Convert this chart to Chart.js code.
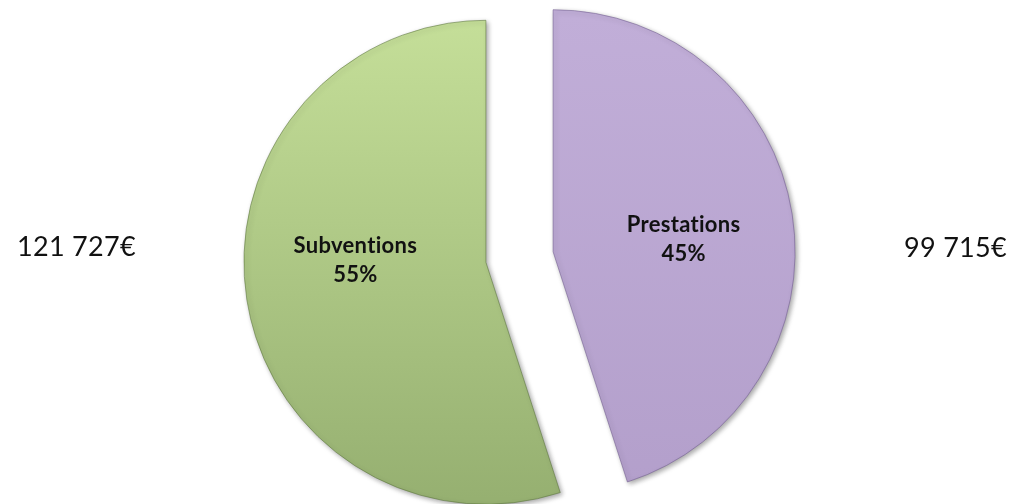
<!DOCTYPE html>
<html>
<head>
<meta charset="utf-8">
<style>
html,body{margin:0;padding:0;background:#fff;}
#wrap{width:1014px;height:504px;position:relative;}
</style>
<script src="https://cdn.jsdelivr.net/npm/chart.js@4.4.1/dist/chart.umd.min.js"></script>
</head>
<body>
<div id="wrap"><canvas id="c" width="1014" height="504"></canvas></div>
<script>
// ---- Data ----
const categories = ['Prestations', 'Subventions'];
const amounts = [99715, 121727];

// ---- Styles ----
const topColors = ['#c1aed8', '#c5df99'];
const bottomColors = ['#b39fcb', '#96b071'];
const edgeColors = ['rgba(110,90,140,0.55)', 'rgba(90,115,60,0.55)'];
const EXPLODE = 34;
const RADIUS = 242;

function fmtEuro(v) {
  return String(v).replace(/\B(?=(\d{3})+(?!\d))/g, ' ') + '€';
}

function gradientFor(context) {
  const chart = context.chart;
  const ca = chart.chartArea;
  const i = context.dataIndex;
  if (!ca) return topColors[i];
  const cy = (ca.top + ca.bottom) / 2;
  const g = chart.ctx.createLinearGradient(0, cy - RADIUS, 0, cy + RADIUS);
  g.addColorStop(0, topColors[i]);
  g.addColorStop(1, bottomColors[i]);
  return g;
}

const explodePlugin = {
  id: 'explode',
  beforeDatasetsDraw(chart) {
    const meta = chart.getDatasetMeta(0);
    const ca = chart.chartArea;
    const cx = (ca.left + ca.right) / 2;
    const cy = (ca.top + ca.bottom) / 2;
    meta.data.forEach(arc => {
      const mid = (arc.startAngle + arc.endAngle) / 2;
      arc.x = cx + Math.cos(mid) * EXPLODE;
      arc.y = cy + Math.sin(mid) * EXPLODE;
    });
    const c = chart.ctx;
    c.save();
    c.shadowColor = 'rgba(0,0,0,0.35)';
    c.shadowBlur = 5;
    c.shadowOffsetX = 2;
    c.shadowOffsetY = 2;
  },
  afterDatasetsDraw(chart) {
    chart.ctx.restore();
  }
};

const labelPlugin = {
  id: 'sliceLabels',
  afterDraw(chart) {
    const c = chart.ctx;
    const meta = chart.getDatasetMeta(0);
    const total = amounts.reduce((a, b) => a + b, 0);
    const ca = chart.chartArea;
    const cy = (ca.top + ca.bottom) / 2;
    c.save();
    c.fillStyle = '#111';
    if ('letterSpacing' in c) c.letterSpacing = '0.3px';
    meta.data.forEach((arc, i) => {
      const mid = (arc.startAngle + arc.endAngle) / 2;
      const r = arc.outerRadius * 0.546;
      const x = arc.x + Math.cos(mid) * r;
      const y = arc.y + Math.sin(mid) * r * 0.23;
      c.font = 'bold 22px Lato';
      c.textAlign = 'center';
      c.textBaseline = 'alphabetic';
      c.fillText(categories[i], x, y - 14.5);
      c.fillText(Math.round(amounts[i] / total * 100) + '%', x, y + 14.5);

      c.font = '27px Lato';
      c.textAlign = 'left';
      if (Math.cos(mid) > 0) {
        c.fillText(fmtEuro(amounts[i]), 904, cy);
      } else {
        c.fillText(fmtEuro(amounts[i]), 17, cy - 1);
      }
    });
    c.restore();
  }
};

new Chart(document.getElementById('c'), {
  type: 'pie',
  data: {
    labels: categories,
    datasets: [{
      data: amounts,
      backgroundColor: gradientFor,
      borderColor: edgeColors,
      borderWidth: 1,
      clip: false
    }]
  },
  options: {
    responsive: false,
    animation: false,
    radius: RADIUS,
    events: [],
    layout: { padding: { left: 25, top: 10, right: 0, bottom: 0 } },
    plugins: {
      legend: { display: false },
      tooltip: { enabled: false }
    }
  },
  plugins: [explodePlugin, labelPlugin]
});
</script>
</body>
</html>
